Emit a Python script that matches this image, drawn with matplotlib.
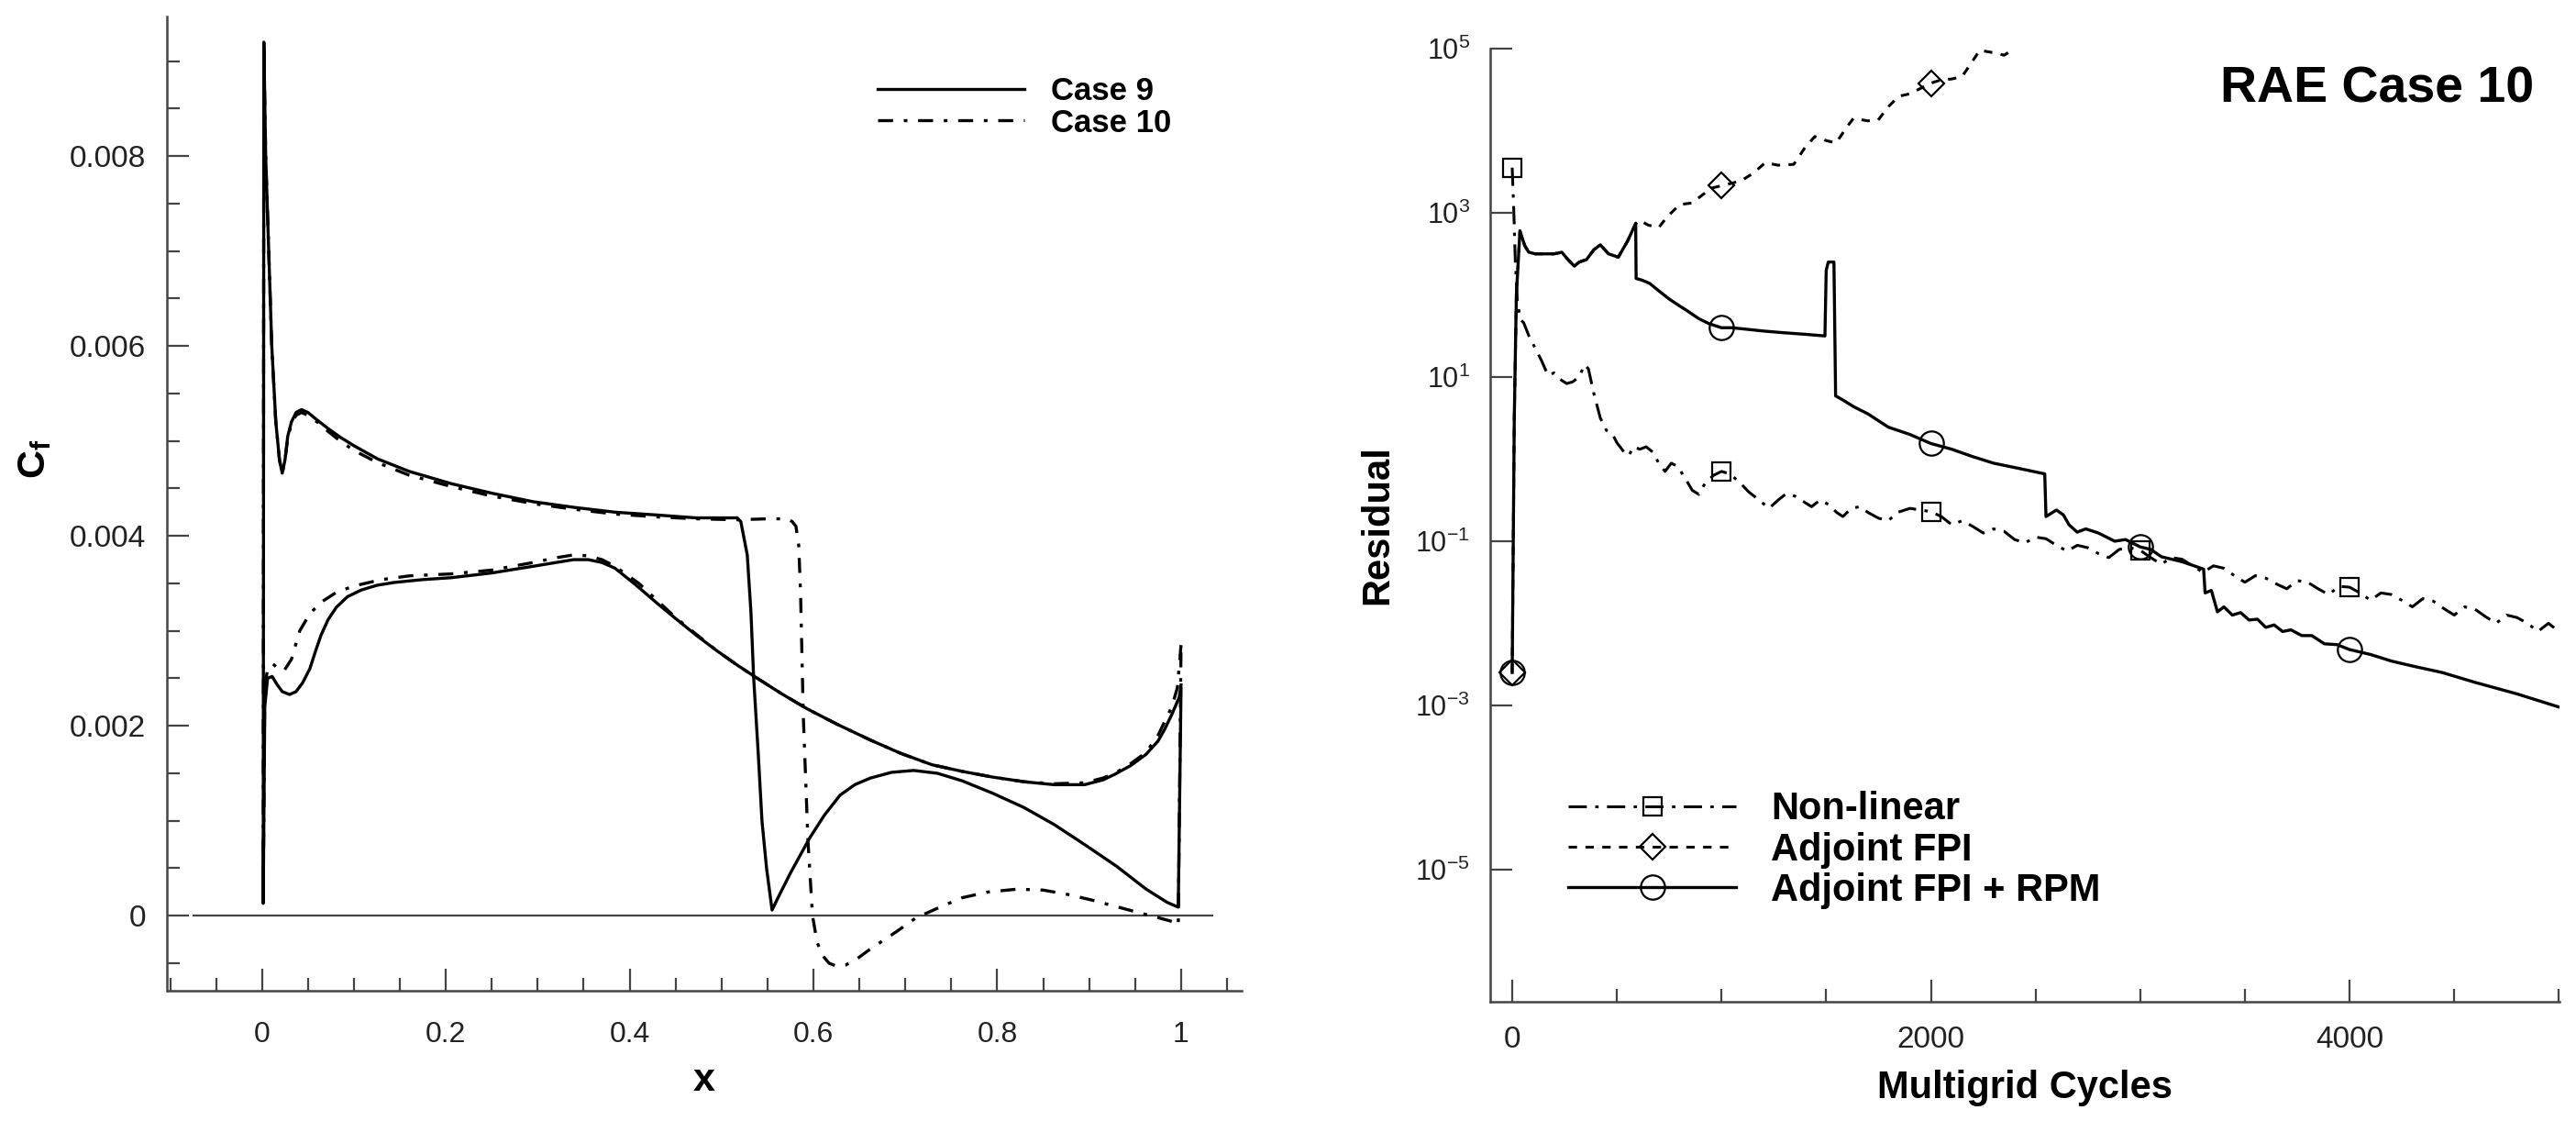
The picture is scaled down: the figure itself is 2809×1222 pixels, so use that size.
import numpy as np
import matplotlib
matplotlib.use("Agg")
import matplotlib.pyplot as plt
from matplotlib.lines import Line2D
from matplotlib.ticker import FixedLocator, MultipleLocator, NullLocator, FuncFormatter

plt.rcParams['font.family'] = ['Liberation Sans', 'DejaVu Sans']
plt.rcParams['mathtext.fontset'] = 'custom'
plt.rcParams['mathtext.rm'] = 'Liberation Sans'
plt.rcParams['mathtext.bf'] = 'Liberation Sans:bold'
plt.rcParams['mathtext.it'] = 'Liberation Sans:italic'

# ===== left: skin friction =====
x9_upper = [0.0013, 0.0020, 0.0040, 0.0106, 0.015, 0.019, 0.022, 0.025, 0.028, 0.032,
            0.037, 0.043, 0.050, 0.060, 0.072, 0.085, 0.100, 0.126, 0.160, 0.206,
            0.250, 0.295, 0.340, 0.384, 0.430, 0.472, 0.517, 0.521, 0.524, 0.528,
            0.532, 0.535, 0.540, 0.544, 0.549, 0.555, 0.562, 0.575, 0.596, 0.612,
            0.629, 0.645, 0.662, 0.685, 0.709, 0.735, 0.762, 0.795, 0.829, 0.862,
            0.895, 0.930, 0.962, 0.985, 0.997, 1.000]
cf9_upper = [0.00013, 0.0092, 0.0080, 0.0060, 0.0052, 0.0048, 0.00466, 0.0048, 0.00505, 0.0052,
             0.0053, 0.00533, 0.0053, 0.00522, 0.00513, 0.00504, 0.00495, 0.00481, 0.00468, 0.00455,
             0.00445, 0.00436, 0.0043, 0.00425, 0.00422, 0.00419, 0.00419, 0.00415, 0.0040, 0.0038,
             0.0032, 0.0025, 0.0017, 0.0010, 0.0005, 0.00006, 0.0002, 0.00045, 0.00082, 0.00106,
             0.00127, 0.00138, 0.00145, 0.00151, 0.00153, 0.0015, 0.00142, 0.00129, 0.00114, 0.00096,
             0.00075, 0.00052, 0.00028, 0.00014, 0.00009, 0.00239]

x9_lower = [0.0013, 0.003, 0.006, 0.011, 0.016, 0.022, 0.030, 0.037, 0.044, 0.052,
            0.058, 0.064, 0.072, 0.081, 0.093, 0.108, 0.125, 0.144, 0.175, 0.206,
            0.250, 0.295, 0.320, 0.339, 0.355, 0.370, 0.384, 0.406, 0.430, 0.450,
            0.473, 0.495, 0.517, 0.539, 0.565, 0.593, 0.625, 0.662, 0.695, 0.729,
            0.762, 0.795, 0.830, 0.862, 0.895, 0.915, 0.928, 0.945, 0.962, 0.975,
            0.982, 0.990, 0.998, 1.000]
cf9_lower = [0.00013, 0.0022, 0.0025, 0.00252, 0.00244, 0.00236, 0.00233, 0.00236, 0.00245, 0.0026,
             0.00278, 0.00295, 0.00312, 0.00325, 0.00336, 0.00343, 0.00348, 0.00351, 0.00354, 0.00356,
             0.00361, 0.00368, 0.00372, 0.00375, 0.00375, 0.00372, 0.00366, 0.00349, 0.00329, 0.00313,
             0.00295, 0.00279, 0.00264, 0.0025, 0.00234, 0.00218, 0.00202, 0.00185, 0.00171, 0.00159,
             0.00152, 0.00146, 0.00141, 0.00138, 0.00138, 0.00143, 0.00149, 0.00158, 0.0017, 0.00184,
             0.00196, 0.00212, 0.0023, 0.00243]

x10_upper = [0.0013, 0.0020, 0.0040, 0.0106, 0.015, 0.019, 0.022, 0.025, 0.028, 0.032,
             0.037, 0.043, 0.050, 0.060, 0.072, 0.085, 0.100, 0.126, 0.160, 0.206,
             0.250, 0.295, 0.340, 0.384, 0.430, 0.472, 0.517, 0.550, 0.572, 0.577,
             0.581, 0.584, 0.586, 0.589, 0.594, 0.599, 0.604, 0.610, 0.617, 0.625,
             0.635, 0.648, 0.662, 0.690, 0.712, 0.740, 0.762, 0.790, 0.822, 0.850,
             0.879, 0.905, 0.928, 0.955, 0.975, 0.990, 0.997, 1.000]
cf10_upper = [0.00013, 0.0091, 0.0080, 0.0060, 0.0052, 0.0048, 0.00466, 0.0048, 0.00503, 0.00518,
              0.00527, 0.0053, 0.00527, 0.0052, 0.0051, 0.005, 0.0049, 0.00477, 0.00464, 0.00452,
              0.00442, 0.00434, 0.00428, 0.00423, 0.0042, 0.00418, 0.00417, 0.00418, 0.00418, 0.00415,
              0.0041, 0.0039, 0.0034, 0.0021, 0.0008, 0.0, -0.00028, -0.00042, -0.0005, -0.00053,
              -0.00052, -0.00045, -0.00035, -0.00017, -0.00002, 0.0001, 0.00019, 0.00025, 0.00028, 0.00027,
              0.00022, 0.00016, 0.0001, 0.00003, -0.00002, -0.00006, -0.0001, 0.00285]

x10_lower = [0.0013, 0.003, 0.006, 0.012, 0.018, 0.024, 0.032, 0.041, 0.052, 0.064,
             0.080, 0.099, 0.130, 0.161, 0.206, 0.250, 0.295, 0.320, 0.339, 0.355,
             0.370, 0.384, 0.410, 0.430, 0.450, 0.473, 0.495, 0.517, 0.539, 0.565,
             0.593, 0.625, 0.662, 0.695, 0.729, 0.762, 0.795, 0.830, 0.862, 0.895,
             0.915, 0.928, 0.945, 0.962, 0.975, 0.990, 0.996, 1.000]
cf10_lower = [0.00013, 0.0024, 0.0026, 0.00265, 0.0026, 0.00258, 0.0027, 0.0030, 0.00318, 0.0033,
              0.0034, 0.00347, 0.00354, 0.00358, 0.0036, 0.00364, 0.00372, 0.00377, 0.0038, 0.00379,
              0.00375, 0.00368, 0.0035, 0.00332, 0.00314, 0.00296, 0.00279, 0.00264, 0.0025, 0.00234,
              0.00218, 0.00202, 0.00185, 0.00171, 0.00159, 0.00152, 0.00146, 0.00141, 0.00139, 0.0014,
              0.00145, 0.0015, 0.0016, 0.00172, 0.0019, 0.0022, 0.0024, 0.00285]

# ===== right: convergence history (log10 of residual) =====
cyc_nl = [0, 8, 15, 25, 40, 55, 80, 110, 140, 171, 200, 230, 260, 288, 320, 345, 364, 390,
          421, 450, 480, 500, 530, 556, 580, 610, 640, 674, 700, 730, 760, 791, 830, 860,
          892, 920, 960, 1000, 1040, 1093, 1130, 1180, 1227, 1270, 1310, 1350, 1393, 1430,
          1470, 1510, 1550, 1580, 1620, 1660, 1700, 1750, 1797, 1840, 1900, 1950, 2000,
          2050, 2100, 2150, 2200, 2250, 2300, 2350, 2400, 2450, 2500, 2550, 2600, 2650,
          2700, 2750, 2800, 2850, 2900, 2950, 3000, 3050, 3100, 3150, 3200, 3250, 3300,
          3350, 3400, 3450, 3500, 3550, 3600, 3650, 3700, 3750, 3800, 3850, 3900, 3950,
          4000, 4050, 4100, 4150, 4200, 4250, 4300, 4350, 4400, 4450, 4500, 4550, 4600,
          4650, 4700, 4750, 4800, 4850, 4900, 4950, 5000]
lg_nl = [3.55, 3.0, 2.4, 1.9, 1.7, 1.66, 1.5, 1.35, 1.2, 1.02, 1.05, 0.97, 0.92, 0.94, 1.0, 1.15, 1.1, 0.8,
         0.5, 0.35, 0.3, 0.2, 0.1, 0.04, 0.15, 0.12, 0.15, 0.08, -0.05, -0.15, -0.05, -0.09, -0.25, -0.38,
         -0.43, -0.3, -0.2, -0.15, -0.18, -0.30, -0.4, -0.5, -0.60, -0.5, -0.42, -0.45, -0.52, -0.58,
         -0.5, -0.55, -0.65, -0.70, -0.6, -0.58, -0.65, -0.72, -0.75, -0.65, -0.6, -0.62, -0.64,
         -0.7, -0.8, -0.75, -0.82, -0.9, -0.85, -0.88, -0.98, -1.02, -0.95, -0.97, -1.05, -1.12,
         -1.05, -1.08, -1.15, -1.2, -1.1, -1.08, -1.11, -1.2, -1.28, -1.2, -1.22, -1.3, -1.38,
         -1.3, -1.33, -1.42, -1.5, -1.42, -1.45, -1.52, -1.58, -1.48, -1.5, -1.58, -1.65, -1.55,
         -1.56, -1.63, -1.72, -1.63, -1.65, -1.72, -1.8, -1.7, -1.73, -1.82, -1.9, -1.8, -1.83,
         -1.92, -2.0, -1.9, -1.93, -2.0, -2.1, -2.0, -2.1]

cyc_fpi = [0, 10, 20, 37, 60, 79, 110, 153, 200, 237, 270, 297, 320, 355, 390, 421, 460, 507,
           550, 590, 607, 650, 700, 740, 800, 858, 900, 950, 1000, 1050, 1100, 1150, 1209, 1270,
           1345, 1400, 1446, 1500, 1547, 1600, 1630, 1700, 1748, 1800, 1847, 1900, 2000, 2050,
           2100, 2149, 2200, 2233, 2300, 2350, 2400]
lg_fpi = [-2.6, 0.5, 2.0, 2.78, 2.6, 2.52, 2.5, 2.5, 2.5, 2.52, 2.42, 2.35, 2.4, 2.43, 2.55, 2.61, 2.5, 2.46,
          2.65, 2.87, 2.91, 2.85, 2.82, 2.95, 3.1, 3.12, 3.2, 3.3, 3.33, 3.36, 3.4, 3.48, 3.61, 3.58,
          3.59, 3.8, 3.93, 3.88, 3.85, 4.05, 4.15, 4.12, 4.13, 4.3, 4.42, 4.45, 4.58, 4.62,
          4.63, 4.66, 4.85, 4.98, 4.95, 4.92, 5.0]

cyc_rpm = [0, 10, 20, 37, 60, 79, 110, 153, 200, 237, 270, 297, 320, 355, 390, 421, 460, 507,
           550, 590, 592, 620, 657, 700, 750, 791, 840, 892, 940, 1000, 1050, 1126, 1200, 1293,
           1400, 1494, 1500, 1510, 1537, 1545, 1580, 1630, 1700, 1796, 1900, 2000, 2100, 2200,
           2300, 2414, 2544, 2550, 2600, 2633, 2660, 2699, 2740, 2800, 2878, 2930, 3000, 3050,
           3102, 3200, 3303, 3310, 3340, 3369, 3400, 3440, 3480, 3520, 3560, 3600, 3640, 3680,
           3720, 3772, 3820, 3880, 3940, 4000, 4100, 4200, 4300, 4443, 4600, 4800, 5000]
lg_rpm = [-2.6, 0.5, 2.0, 2.78, 2.6, 2.52, 2.5, 2.5, 2.5, 2.52, 2.42, 2.35, 2.4, 2.43, 2.55, 2.61, 2.5, 2.46,
          2.65, 2.87, 2.20, 2.18, 2.14, 2.05, 1.95, 1.88, 1.8, 1.71, 1.65, 1.60, 1.6, 1.58, 1.56, 1.54,
          1.52, 1.50, 2.3, 2.40, 2.40, 0.77, 0.72, 0.64, 0.55, 0.39, 0.3, 0.19, 0.12, 0.03,
          -0.05, -0.11, -0.18, -0.70, -0.62, -0.68, -0.8, -0.89, -0.85, -0.9, -1.0, -0.98, -1.07, -1.1,
          -1.19, -1.25, -1.34, -1.63, -1.6, -1.86, -1.8, -1.9, -1.87, -1.96, -1.95, -2.05, -2.02, -2.1,
          -2.08, -2.15, -2.15, -2.25, -2.26, -2.32, -2.38, -2.46, -2.52, -2.60, -2.72, -2.86, -3.02]

marks_nl = [0, 1000, 2000, 3000, 4000]
marks_fpi = [0, 1000, 2000]
marks_rpm = [0, 1000, 2000, 3000, 4000]

labels_right = ["Non-linear", "Adjoint FPI", "Adjoint FPI + RPM"]
labels_left = ["Case 9", "Case 10"]

axis_col = '#444444'
ls_case10 = (0, (4.9, 3.5, 1.2, 3.5))
ls_nl = (0, (6.5, 3, 1.2, 3))
ls_fpi = (0, (3, 3))


def mark_idx(cyc, marks):
    cyc = np.asarray(cyc)
    return [int(np.where(cyc == m)[0][0]) for m in marks]


fig = plt.figure(figsize=(28.09, 12.22), dpi=100)
W, H = 2809, 1222

# ---- left panel ----
ax1 = fig.add_axes([182.5 / W, 1 - 1080 / H, (1354 - 182.5) / W, (1080 - 18) / H])
x9 = np.concatenate([x9_lower[::-1], x9_upper[1:]])
c9 = np.concatenate([cf9_lower[::-1], cf9_upper[1:]])
x10 = np.concatenate([x10_lower[::-1], x10_upper[1:]])
c10 = np.concatenate([cf10_lower[::-1], cf10_upper[1:]])

ax1.hlines(0, -0.076, 1.035, color=axis_col, lw=1.6)
ax1.plot(x10, c10, color='black', lw=2.4, linestyle=ls_case10)
ax1.plot(x9, c9, color='black', lw=2.4)
ax1.set_xlim(-0.103, 1.066)
ax1.set_ylim(-0.00079, 0.00947)

ax1.xaxis.set_major_locator(MultipleLocator(0.2))
ax1.xaxis.set_minor_locator(MultipleLocator(0.05))
ax1.yaxis.set_major_locator(MultipleLocator(0.002))
ax1.yaxis.set_minor_locator(MultipleLocator(0.0005))
ax1.xaxis.set_major_formatter(FuncFormatter(lambda v, p: '%g' % round(v, 6)))
ax1.yaxis.set_major_formatter(FuncFormatter(lambda v, p: '%g' % round(v, 6)))

leg1 = [Line2D([], [], color='black', lw=2.4),
        Line2D([], [], color='black', lw=2.4, linestyle=ls_case10)]
ax1.legend(leg1, labels_left, loc='upper left', bbox_to_anchor=(0.661, 0.939),
           frameon=False, borderpad=0, borderaxespad=0, handlelength=4.6,
           handletextpad=0.85, labelspacing=0.05,
           prop={'size': 25, 'weight': 'bold'})

fig.text(38 / W, 1 - 500 / H, r'$\mathbf{C_f}$', rotation=90, ha='center', va='center',
         fontsize=31)
fig.text(768 / W, 1 - 1189 / H, 'x', ha='center', va='baseline', fontsize=31,
         fontweight='bold')

# ---- right panel ----
ax2 = fig.add_axes([1625 / W, 1 - 1092 / H, (2791 - 1625) / W, (1092 - 53) / H])
ax2.set_yscale('log')
ax2.plot(cyc_nl, 10.0 ** np.array(lg_nl), color='black', lw=2.2, linestyle=ls_nl,
         marker='s', ms=15, mfc='none', mec='black', mew=1.6,
         markevery=mark_idx(cyc_nl, marks_nl))
ax2.plot(cyc_fpi, 10.0 ** np.array(lg_fpi), color='black', lw=2.2, linestyle=ls_fpi,
         marker='D', ms=14, mfc='none', mec='black', mew=1.6,
         markevery=mark_idx(cyc_fpi, marks_fpi))
ax2.plot(cyc_rpm, 10.0 ** np.array(lg_rpm), color='black', lw=2.4,
         marker='o', ms=19, mfc='none', mec='black', mew=1.6,
         markevery=mark_idx(cyc_rpm, marks_rpm))
ax2.set_xlim(-105, 5003)
ax2.set_ylim(10 ** -6.61, 1e5)

ax2.xaxis.set_major_locator(FixedLocator([0, 2000, 4000]))
ax2.xaxis.set_minor_locator(MultipleLocator(500))
ax2.yaxis.set_major_locator(FixedLocator([1e-5, 1e-3, 1e-1, 1e1, 1e3, 1e5]))
ax2.yaxis.set_minor_locator(NullLocator())
ax2.yaxis.set_major_formatter(FuncFormatter(
    lambda v, p: r'$\mathregular{10^{%d}}$' % int(round(np.log10(v)))))

leg2 = [Line2D([], [], color='black', lw=2.2, linestyle=ls_nl, marker='s', ms=15,
               mfc='none', mec='black', mew=1.6),
        Line2D([], [], color='black', lw=2.2, linestyle=ls_fpi, marker='D', ms=14,
               mfc='none', mec='black', mew=1.6),
        Line2D([], [], color='black', lw=2.4, marker='o', ms=19,
               mfc='none', mec='black', mew=1.6)]
ax2.legend(leg2, labels_right, loc='upper left', bbox_to_anchor=(0.073, 0.221),
           frameon=False, borderpad=0, borderaxespad=0, handlelength=4.4,
           handletextpad=0.9, labelspacing=0.1, numpoints=1,
           prop={'size': 30, 'weight': 'bold'})

ax2.text(0.976, 0.944, 'RAE Case 10', transform=ax2.transAxes, ha='right',
         va='baseline', fontsize=40, fontweight='bold')
fig.text(1502 / W, 1 - 572 / H, 'Residual', rotation=90, ha='center', va='center',
         fontsize=30, fontweight='bold')
fig.text(2208 / W, 1 - 1197 / H, 'Multigrid Cycles', ha='center', va='baseline',
         fontsize=30, fontweight='bold')

for ax in (ax1, ax2):
    for side in ('top', 'right'):
        ax.spines[side].set_visible(False)
    for side in ('left', 'bottom'):
        ax.spines[side].set_color(axis_col)
        ax.spines[side].set_linewidth(1.8)
    ax.tick_params(which='both', direction='in', color=axis_col, width=1.6,
                   labelcolor='#222222')
    ax.tick_params(which='major', length=17)
    ax.tick_params(which='minor', length=10)

ax1.tick_params(axis='x', which='major', pad=24, labelsize=23)
ax1.tick_params(axis='y', which='major', pad=17, labelsize=24)
ax2.tick_params(axis='x', which='major', pad=19, labelsize=24)
ax2.tick_params(axis='y', which='major', pad=16, labelsize=22)

fig.savefig('out.png', dpi=100)
